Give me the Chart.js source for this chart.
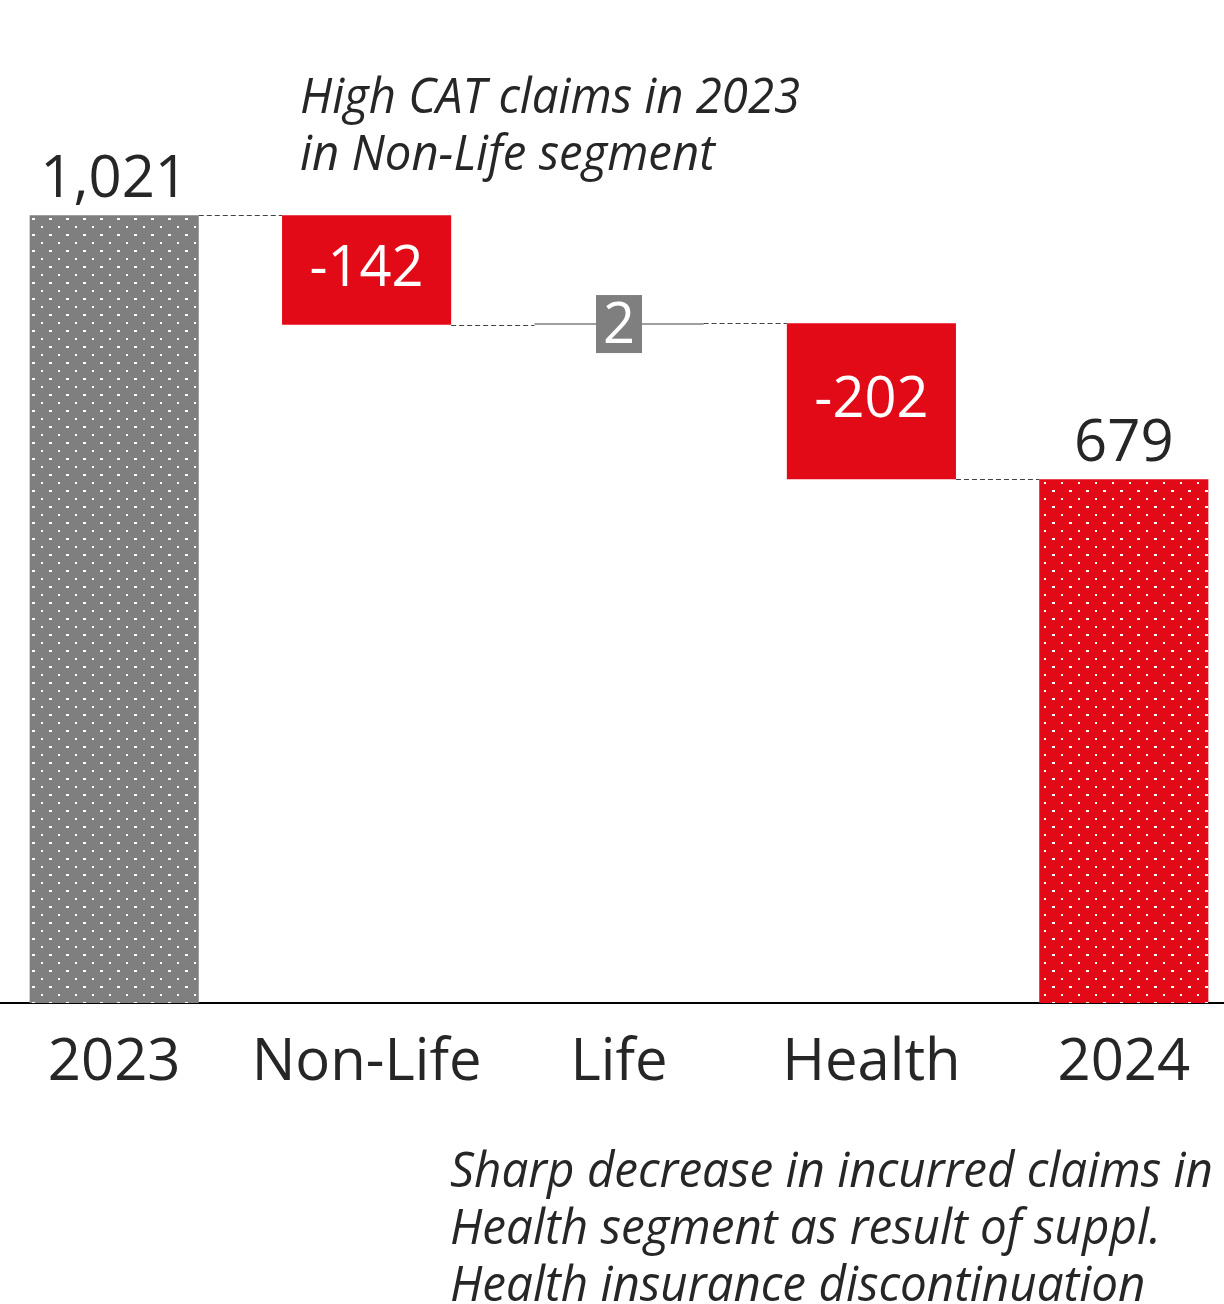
<!DOCTYPE html>
<html>
<head>
<meta charset="utf-8">
<script src="https://cdn.jsdelivr.net/npm/chart.js@4.4.1/dist/chart.umd.min.js"></script>
<style>
  html, body { margin: 0; padding: 0; background: #fff; overflow: hidden; }
  #wrap { position: relative; width: 1224px; height: 1304px; overflow: hidden; }
  #chart { position: absolute; left: -12px; top: 0; }
</style>
</head>
<body>
<div id="wrap"><canvas id="chart" width="1262" height="1304"></canvas></div>
<script>
const categories = ["2023", "Non-Life", "Life", "Health", "2024"];
const startValue = 1021;
const deltas = [-142, 2, -202];
const endValue = 679;
const valueLabels = ["1,021", "-142", "2", "-202", "679"];
const unitLabel = "(EUR m)";
const noteTop = ["High CAT claims in 2023", "in Non-Life segment"];
const noteBottom = [
  "Sharp decrease in incurred claims in",
  "Health segment as result of suppl.",
  "Health insurance discontinuation"
];

const GRAY = "#7f7f7f";
const RED = "#e30a18";
const TEXT = "#262626";
const FONT = "'Open Sans', 'Noto Sans', sans-serif";
const OFF = 12; // canvas sits 12px left of the page

function dotPattern(color) {
  const c = document.createElement("canvas");
  c.width = 17;
  c.height = 16;
  const g = c.getContext("2d");
  g.fillStyle = color;
  g.fillRect(0, 0, 17, 16);
  g.fillStyle = "#ffffff";
  g.fillRect(2, 2, 2, 2);
  g.fillRect(10, 10, 3, 2);
  return g.createPattern(c, "repeat");
}

// floating ranges for the waterfall
const ranges = [[0, startValue]];
const levels = [startValue];
let run = startValue;
deltas.forEach(d => {
  const next = run + d;
  ranges.push([Math.min(run, next), Math.max(run, next)]);
  run = next;
  levels.push(run);
});
ranges.push([0, endValue]);

const colors = [
  dotPattern(GRAY),
  ...deltas.map(d => (d < 0 ? RED : GRAY)),
  dotPattern(RED)
];

function fitLines(ctx, lines, x, y0, step, width) {
  const sx = width / ctx.measureText(lines[0]).width;
  ctx.save();
  ctx.translate(x, 0);
  ctx.scale(sx, 1);
  lines.forEach((t, i) => ctx.fillText(t, 0, y0 + i * step));
  ctx.restore();
}

const waterfallPlugin = {
  id: "waterfall",
  afterDatasetsDraw(chart) {
    const ctx = chart.ctx;
    const bars = chart.getDatasetMeta(0).data;
    const y = chart.scales.y;

    // connectors
    ctx.save();
    ctx.strokeStyle = "#444";
    ctx.lineWidth = 1;
    ctx.setLineDash([5, 3]);
    for (let i = 0; i < bars.length - 1; i++) {
      const py = Math.round(y.getPixelForValue(levels[i])) + 0.5;
      ctx.beginPath();
      ctx.moveTo(bars[i].x + bars[i].width / 2, py);
      ctx.lineTo(bars[i + 1].x - bars[i + 1].width / 2, py);
      ctx.stroke();
    }
    ctx.restore();

    // value labels
    ctx.save();
    ctx.textAlign = "center";
    ctx.textBaseline = "alphabetic";
    bars.forEach((b, i) => {
      const top = Math.min(b.y, b.base);
      const mid = (b.y + b.base) / 2;
      if (i === 0 || i === bars.length - 1) {
        ctx.font = `58px ${FONT}`;
        ctx.fillStyle = TEXT;
        ctx.fillText(valueLabels[i], b.x, top - 18);
      } else if (Math.abs(b.base - b.y) < 60) {
        ctx.font = `56px ${FONT}`;
        ctx.fillStyle = GRAY;
        ctx.fillRect(b.x - 23, mid - 29, 46, 58);
        ctx.fillStyle = "#fff";
        ctx.fillText(valueLabels[i], b.x, mid + 19);
      } else {
        ctx.font = `56px ${FONT}`;
        ctx.fillStyle = "#fff";
        ctx.fillText(valueLabels[i], b.x, mid + 16);
      }
    });
    ctx.restore();

    // notes
    ctx.save();
    ctx.fillStyle = TEXT;
    ctx.textAlign = "left";
    ctx.font = `italic 50px ${FONT}`;
    fitLines(ctx, noteTop, 300 + OFF, 113, 57, 500);
    fitLines(ctx, noteBottom, 450 + OFF, 1187, 57, 763);
    ctx.restore();

    // unit label, mostly above the visible area
    ctx.save();
    ctx.fillStyle = TEXT;
    ctx.font = `44px ${FONT}`;
    ctx.fillText(unitLabel, 31 + OFF, -10);
    ctx.restore();
  }
};

new Chart(document.getElementById("chart"), {
  type: "bar",
  data: {
    labels: categories,
    datasets: [{
      data: ranges,
      backgroundColor: colors,
      borderWidth: 0,
      barPercentage: 0.67,
      categoryPercentage: 1
    }]
  },
  options: {
    responsive: false,
    animation: false,
    devicePixelRatio: 1,
    layout: { padding: 0 },
    plugins: {
      legend: { display: false },
      tooltip: { enabled: false }
    },
    scales: {
      x: {
        grid: { display: false, drawTicks: false },
        border: { display: true, color: "#000", width: 2 },
        ticks: {
          color: TEXT,
          padding: 26,
          font: { family: "'Open Sans', 'Noto Sans', sans-serif", size: 58 }
        },
        afterFit(scale) { scale.height = 301; }
      },
      y: {
        display: false,
        min: 0,
        max: 1300
      }
    }
  },
  plugins: [waterfallPlugin]
});
</script>
</body>
</html>
